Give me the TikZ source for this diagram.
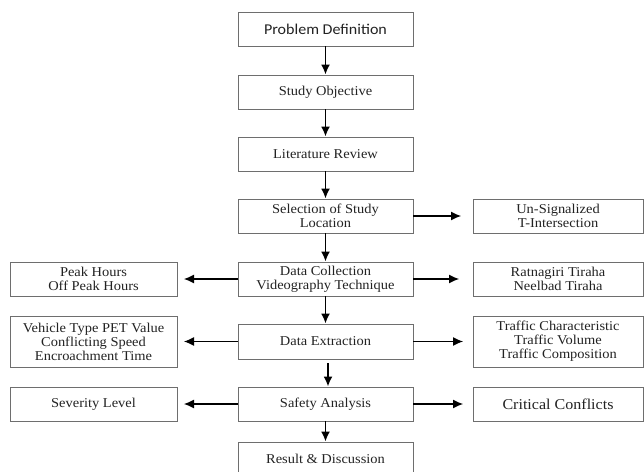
\documentclass[tikz,border=0pt]{standalone}
\usepackage{fontspec}
\setmainfont{Liberation Serif}[FakeStretch=1.07]
\newfontfamily\calibrifont{Carlito}[FakeStretch=1.07]
\usetikzlibrary{arrows.meta}
\definecolor{boxgray}{HTML}{6E6E6E}
\definecolor{txt}{HTML}{222222}
\begin{document}
\begin{tikzpicture}[x=1pt,y=-1pt,
  box/.style={draw=boxgray, line width=0.9pt, rectangle, inner sep=0pt, align=center,
    font=\fontsize{13.5}{14}\selectfont, text=txt},
  cbox/.style={box, minimum width=175pt, minimum height=34pt},
  lbox/.style={box, minimum width=167pt, minimum height=34pt},
  rbox/.style={box, minimum width=170pt, minimum height=34pt},
  varr/.style={-{Latex[length=10pt,width=9pt]}, line width=1.8pt},
  harr/.style={-{Latex[length=10pt,width=9pt]}, line width=1.1pt}]
\useasboundingbox (0,0) rectangle (644,471);
% centre column
\node[cbox, font=\calibrifont\fontsize{15}{16}\selectfont] (pd) at (325.5,29) {Problem Definition};
\node[cbox] (so) at (325.5,92) {Study Objective};
\node[cbox] (lr) at (325.5,154) {Literature Review};
\node[cbox] (sel) at (325.5,216) {Selection of Study\\Location};
\node[cbox] (dc) at (325.5,279) {Data Collection\\Videography Technique};
\node[cbox, minimum height=35pt] (de) at (325.5,341.5) {Data Extraction};
\node[cbox] (sa) at (325.5,404) {Safety Analysis};
\node[cbox] (rd) at (325.5,459) {Result \& Discussion};
% side boxes
\node[rbox] (us) at (558,216) {Un-Signalized\\T-Intersection};
\node[lbox] (ph) at (93.5,279) {Peak Hours\\Off Peak Hours};
\node[rbox] (rt) at (558,279) {Ratnagiri Tiraha\\Neelbad Tiraha};
\node[lbox, minimum height=51pt] (vt) at (93.5,341.5) {Vehicle Type PET Value\\Conflicting Speed\\Encroachment Time};
\node[rbox, minimum height=51pt] (tc) at (558,341.5) {Traffic Characteristic\\Traffic Volume\\Traffic Composition};
\node[lbox] (sl) at (93.5,404) {Severity Level};
\node[rbox, font=\fontsize{15}{16}\selectfont] (cc) at (558,404) {Critical Conflicts};
% free ends
\coordinate (usend) at (461,216);
\coordinate (rtend) at (459,279);
\coordinate (phend) at (184,279);
\coordinate (tcend) at (463,341.5);
\coordinate (vtend) at (184,341.5);
\coordinate (ccend) at (463,404);
\coordinate (slend) at (184,404);
\coordinate (destart) at (328,363);
% vertical arrows
\draw[varr] (pd) -- (so);
\draw[varr] (so) -- (lr);
\draw[varr] (lr) -- (sel);
\draw[varr] (sel) -- (dc);
\draw[varr] (dc) -- (de);
\draw[varr] (destart) -- (destart |- sa.north);
\draw[varr] (sa) -- (rd);
% horizontal arrows
\draw[harr] (sel.east) -- (usend);
\draw[harr] (dc.east) -- (rtend);
\draw[harr] (dc.west) -- (phend);
\draw[harr] (de.east) -- (tcend);
\draw[harr] (de.west) -- (vtend);
\draw[harr] (sa.east) -- (ccend);
\draw[harr] (sa.west) -- (slend);
\end{tikzpicture}
\end{document}
